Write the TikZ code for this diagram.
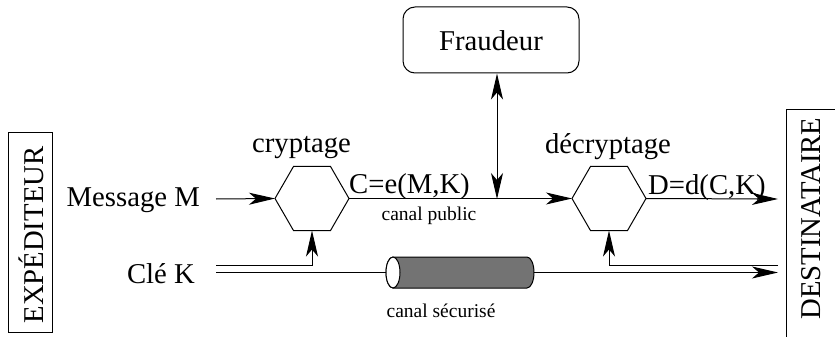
\documentclass[tikz,border=0pt]{standalone}
\usepackage{fontspec}
\setmainfont{Liberation Serif}
\usetikzlibrary{shapes.geometric,arrows.meta}
\begin{document}
\begin{tikzpicture}[x=1pt,y=-1pt,
  big/.style={font=\fontsize{28.7}{30}\selectfont, inner sep=0pt},
  small/.style={font=\fontsize{19.5}{21}\selectfont, inner sep=0pt},
  hexa/.style={draw, line width=1pt, regular polygon, regular polygon sides=6, minimum size=74pt, inner sep=0pt, outer sep=0pt},
  lw/.style={line width=1pt},
  arr/.style={lw, -{Stealth[length=26pt,width=12pt,inset=7pt]}},
  darr/.style={lw, {Stealth[length=26pt,width=12pt,inset=7pt]}-{Stealth[length=26pt,width=12pt,inset=7pt]}},
  sidebox/.style={draw, lw, inner sep=0pt, outer sep=0pt}
]
\useasboundingbox (0,0) rectangle (835,337);
% side boxes
\node[sidebox, minimum width=44pt, minimum height=200pt] (exbox) at (30,232) {};
\node[big, rotate=90] (exp) at (31,235) {EXPÉDITEUR};
\node[sidebox, anchor=north west, minimum width=70pt, minimum height=250pt] (dsbox) at (786,109) {};
\node[big, rotate=90] (dst) at (811,218.5) {DESTINATAIRE};
% hexagons
\node[hexa] (h1) at (312,198.5) {};
\node[hexa] (h2) at (609,198.5) {};
\node[big, anchor=base] (cry) at (301.5,152) {cryptage};
\node[big, anchor=base] (dcry) at (608,153) {décryptage};
% fraudeur
\node[draw, lw, rounded corners=12pt, minimum width=176pt, minimum height=66pt, inner sep=0pt] (fr) at (491,40) {};
\node[big] (frt) at (491,41) {Fraudeur};
% inputs
\node[big, anchor=base east] (msg) at (200,206) {Message M};
\node[big, anchor=base east] (cle) at (195,283) {Clé K};
\coordinate (m0) at (216,199);
\coordinate (ku0) at (216,265.5);
\coordinate (kl0) at (216,272.5);
\coordinate (kl1) at (778,272.5);
\coordinate (ku1) at (778,265.5);
\coordinate (tap) at (497,199);
\coordinate (d0) at (778,199);
% connectors
\draw[arr] (m0) -- (h1.west);
\draw[arr] (h1.east) -- (h2.west);
\draw[arr] (h2.east) -- (d0);
\draw[darr] (tap |- fr.south) -- (tap);
\draw[arr] (ku0) -| (h1.south);
\draw[arr] (ku1) -| (h2.south);
\draw[arr] (kl0) -- (kl1);
% labels on lines
\node[big, anchor=base west] (ce) at (349,193) {C=e(M,K)};
\node[small, anchor=base] (cp) at (429,220) {canal public};
\node[big, anchor=base west] (dd) at (648,194) {D=d(C,K)};
\node[small, anchor=base] (cs) at (441,317) {canal sécurisé};
% cylinder (secure channel)
\filldraw[lw, fill=black!55] (393,257) -- (527,257) arc (-90:90:7 and 15.5) -- (393,288) arc (90:270:7 and 15.5) -- cycle;
\filldraw[lw, fill=white] (393,272.5) ellipse (7 and 15.5);
\end{tikzpicture}
\end{document}
